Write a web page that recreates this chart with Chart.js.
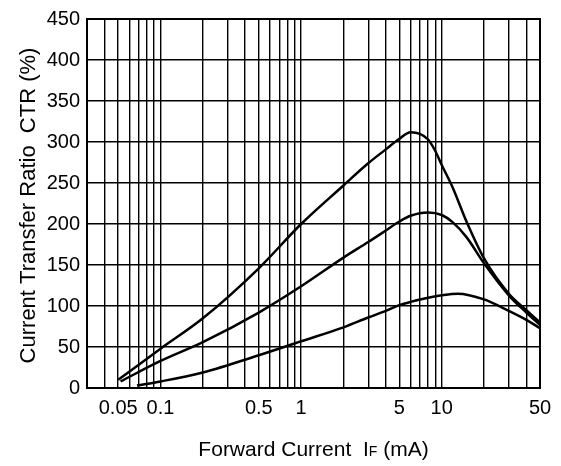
<!DOCTYPE html>
<html>
<head>
<meta charset="utf-8">
<script src="https://cdn.jsdelivr.net/npm/chart.js@4/dist/chart.umd.min.js"></script>
<style>html,body{margin:0;padding:0;background:#fff}</style>
</head>
<body>
<canvas id="myChart" width="561" height="466"></canvas>
<script>
// forward current (mA) and CTR (%)
var current_a = [0.05, 0.1, 0.2, 0.5, 1, 2, 3, 4, 5, 6, 7, 8, 9, 10, 12, 15, 20, 30, 40, 50];
var ctr_a = [10, 48, 85, 146, 200, 247, 274, 291, 304, 312, 310, 303, 289, 272, 244, 203, 158, 115, 95, 80];

var current_b = [0.052, 0.1, 0.2, 0.5, 1, 2, 3, 4, 5, 6, 8, 10, 12, 15, 20, 30, 40, 50];
var ctr_b = [8, 33, 56, 92, 124, 159, 178, 192, 203, 210, 214, 211, 202, 184, 152, 113, 92, 77];

var current_c = [0.068, 0.1, 0.2, 0.5, 1, 2, 3, 4, 5, 6, 8, 10, 13, 20, 30, 40, 50];
var ctr_c = [3, 8, 19, 40, 57, 74, 86, 94, 101, 105, 110, 113, 115, 108, 94, 83, 73];

// log grid lines and which of them get a label
var xGrid = [0.03,0.04,0.05,0.06,0.07,0.08,0.09, 0.1,0.2,0.3,0.4,0.5,0.6,0.7,0.8,0.9, 1,2,3,4,5,6,7,8,9, 10,20,30,40,50];
var xLabels = ["0.05", "0.1", "0.5", "1", "5", "10", "50"];

var FONT = "'Liberation Sans', Arial, sans-serif";
Chart.defaults.font.family = FONT;
Chart.defaults.color = "#000";

function pts(xs, ys) {
    return xs.map(function (x, i) { return { x: x, y: ys[i] }; });
}

function curve(xs, ys) {
    return {
        data: pts(xs, ys),
        borderColor: "#000",
        borderWidth: 2.5,
        pointRadius: 0,
        fill: false,
        cubicInterpolationMode: "monotone"
    };
}

// frame + axis titles (x title has a subscript F)
var frameAndTitles = {
    id: "frameAndTitles",
    afterDraw: function (chart) {
        var ctx = chart.ctx, a = chart.chartArea;
        ctx.save();
        ctx.strokeStyle = "#000";
        ctx.lineWidth = 2;
        ctx.strokeRect(a.left, a.top, a.right - a.left, a.bottom - a.top);

        ctx.fillStyle = "#000";
        ctx.textBaseline = "middle";
        ctx.textAlign = "center";
        ctx.save();
        ctx.translate(28.5, (a.top + a.bottom) / 2 + 2);
        ctx.rotate(-Math.PI / 2);
        ctx.font = "22px " + FONT;
        ctx.fillText("Current Transfer Ratio  CTR (%)", 0, 0);
        ctx.restore();

        var p1 = "Forward Current  I", sub = "F", p2 = " (mA)";
        ctx.textAlign = "left";
        ctx.textBaseline = "alphabetic";
        ctx.font = "21px " + FONT;
        var w1 = ctx.measureText(p1).width, w3 = ctx.measureText(p2).width;
        ctx.font = "14px " + FONT;
        var w2 = ctx.measureText(sub).width;
        var x0 = (a.left + a.right) / 2 - (w1 + w2 + w3) / 2;
        var yb = 456;
        ctx.font = "21px " + FONT;
        ctx.fillText(p1, x0, yb);
        ctx.font = "14px " + FONT;
        ctx.fillText(sub, x0 + w1, yb);
        ctx.font = "21px " + FONT;
        ctx.fillText(p2, x0 + w1 + w2, yb);
        ctx.restore();
    }
};

var ctx = document.getElementById("myChart");

var myChart = new Chart(ctx, {
    type: "line",
    data: {
        datasets: [
            curve(current_a, ctr_a),
            curve(current_b, ctr_b),
            curve(current_c, ctr_c)
        ]
    },
    options: {
        responsive: false,
        animation: false,
        layout: { padding: { top: 12, right: 21, left: 0, bottom: 0 } },
        plugins: {
            legend: { display: false },
            tooltip: { enabled: false }
        },
        scales: {
            x: {
                type: "logarithmic",
                min: 0.03,
                max: 50,
                afterBuildTicks: function (scale) {
                    scale.ticks = xGrid.map(function (v) { return { value: v }; });
                },
                afterFit: function (scale) { scale.height = 78; },
                grid: { color: "#000", lineWidth: 1.4, drawTicks: false },
                border: { display: false },
                ticks: {
                    autoSkip: false,
                    maxRotation: 0,
                    padding: 8,
                    font: { size: 20 },
                    callback: function (v) {
                        var s = String(+v.toPrecision(6));
                        return xLabels.indexOf(s) >= 0 ? s : "";
                    }
                }
            },
            y: {
                min: 0,
                max: 450,
                afterFit: function (scale) { scale.width = 87; },
                grid: { color: "#000", lineWidth: 1.4, drawTicks: false },
                border: { display: false },
                ticks: { stepSize: 50, padding: 7, font: { size: 20 } }
            }
        }
    },
    plugins: [frameAndTitles]
});
</script>
</body>
</html>
